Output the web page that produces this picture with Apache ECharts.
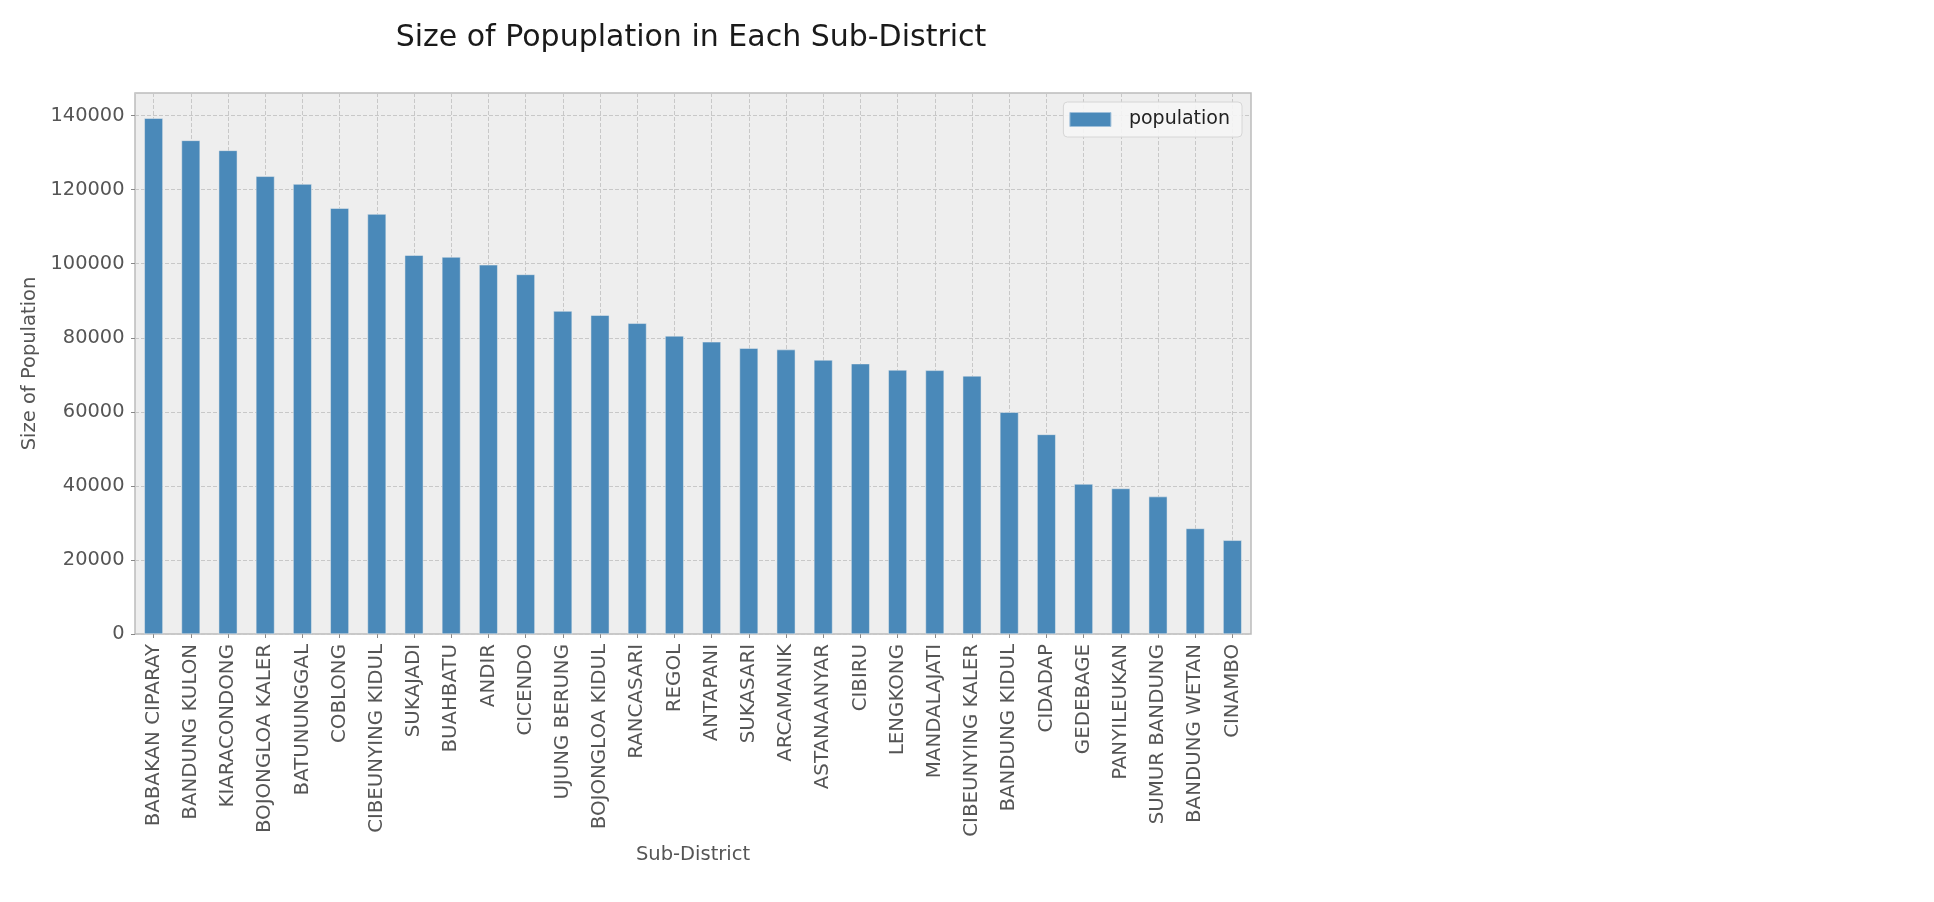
<!DOCTYPE html>
<html>
<head>
<meta charset="utf-8">
<script src="https://cdn.jsdelivr.net/npm/echarts@6/dist/echarts.min.js"></script>
<style>
html,body{margin:0;padding:0;background:#fff;}
#chart{width:1934px;height:902px;}
</style>
</head>
<body>
<div id="chart"></div>
<script>
const categories = ['BABAKAN CIPARAY','BANDUNG KULON','KIARACONDONG','BOJONGLOA KALER','BATUNUNGGAL','COBLONG','CIBEUNYING KIDUL','SUKAJADI','BUAHBATU','ANDIR','CICENDO','UJUNG BERUNG','BOJONGLOA KIDUL','RANCASARI','REGOL','ANTAPANI','SUKASARI','ARCAMANIK','ASTANAANYAR','CIBIRU','LENGKONG','MANDALAJATI','CIBEUNYING KALER','BANDUNG KIDUL','CIDADAP','GEDEBAGE','PANYILEUKAN','SUMUR BANDUNG','BANDUNG WETAN','CINAMBO'];
const population = [139300,133300,130600,123600,121500,115000,113400,102300,101800,99700,97100,87200,86100,83900,80500,78900,77200,76800,74000,73000,71300,71200,69700,59900,53900,40500,39300,37100,28500,25300];
const yTicks = [0,20000,40000,60000,80000,100000,120000,140000];
const titleText = 'Size of Popuplation in Each Sub-District';
const xName = 'Sub-District';
const yName = 'Size of Population';
const seriesName = 'population';

const FONT = "'DejaVu Sans', sans-serif";
const BAR = '#4a89b9';
const chart = echarts.init(document.getElementById('chart'), null, {renderer:'canvas'});
chart.setOption({
  animation: false,
  backgroundColor: '#ffffff',
  title: {
    text: titleText, left: 686, top: 18, textAlign: 'center',
    textStyle: {fontFamily: FONT, fontSize: 30, fontWeight: 'normal', color: '#1a1a1a'}
  },
  legend: {
    data: [seriesName], right: 692, top: 102, orient: 'horizontal',
    icon: 'rect', itemWidth: 41, itemHeight: 14,
    padding: [8, 12, 8, 6],
    backgroundColor: 'rgba(245,245,245,0.9)', borderColor: '#d6d6d6', borderWidth: 1, borderRadius: 4,
    textStyle: {fontFamily: FONT, fontSize: 19, color: '#222', padding: [0,0,0,13]},
    itemStyle: {color: BAR, borderColor: '#9fbfd9', borderWidth: 1}
  },
  grid: {
    left: 135, right: 683, top: 93, bottom: 268,
    show: true, backgroundColor: '#eeeeee', borderColor: '#bcbcbc', borderWidth: 1.5,
    containLabel: false, outerBoundsMode: 'none'
  },
  xAxis: {
    type: 'category', data: categories,
    name: xName, nameLocation: 'middle', nameGap: 209,
    nameTextStyle: {fontFamily: FONT, fontSize: 19.5, color: '#555'},
    axisLine: {show: false},
    axisTick: {show: true, alignWithLabel: true, length: 4, lineStyle: {color: '#888'}, interval: 0},
    axisLabel: {interval: 0, rotate: 90, margin: 10, fontFamily: FONT, fontSize: 19.8, color: '#555'},
    splitLine: {show: true, interval: 0, alignWithLabel: true, lineStyle: {color: '#c8c8c8', width: 1, type: [4, 2]}}
  },
  yAxis: {
    type: 'value', min: 0, max: 146100, interval: 20000,
    name: yName, nameLocation: 'middle', nameGap: 89,
    nameTextStyle: {fontFamily: FONT, fontSize: 19.5, color: '#555'},
    axisLine: {show: false},
    axisTick: {show: true, length: 4, lineStyle: {color: '#888'}},
    axisLabel: {
      margin: 10.5, fontFamily: FONT, fontSize: 19.4, color: '#555', showMaxLabel: false,
      formatter: v => yTicks.indexOf(v) >= 0 ? String(v) : ''
    },
    splitLine: {show: true, lineStyle: {color: '#c8c8c8', width: 1, type: [4, 2]}}
  },
  series: [{
    name: seriesName, type: 'bar', data: population, barWidth: '50%',
    itemStyle: {color: BAR, borderColor: '#eeeeee', borderWidth: 0.5}
  }]
});
</script>
</body>
</html>
